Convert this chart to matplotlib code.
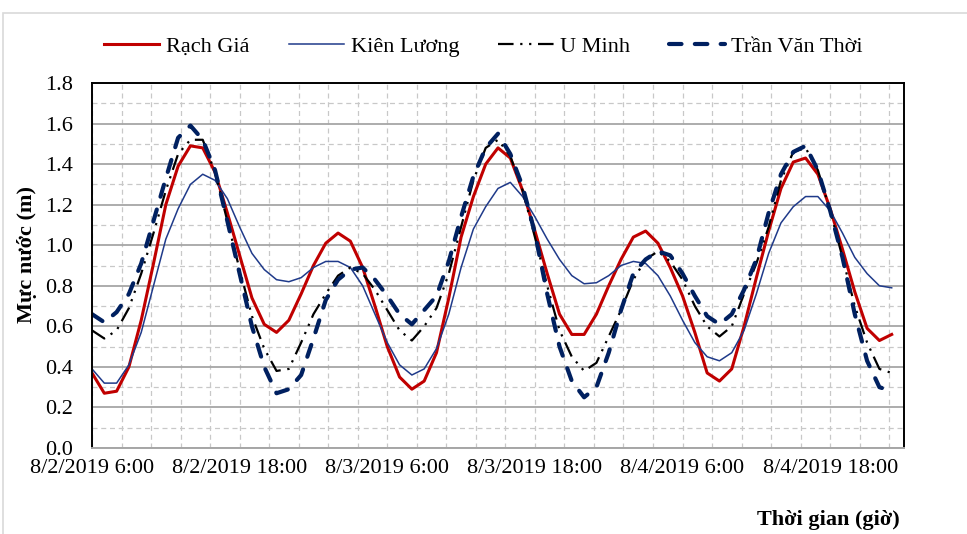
import numpy as np
import pandas as pd
import matplotlib
matplotlib.use("Agg")
import matplotlib.pyplot as plt
import matplotlib.dates as mdates
from matplotlib.ticker import FixedLocator
from matplotlib.patches import Rectangle

plt.rcParams['font.family'] = ['Liberation Serif', 'DejaVu Serif']

# hourly water levels (m), 8/2/2019 06:00 -> 8/4/2019 23:00
times = pd.date_range('2019-08-02 06:00', periods=66, freq='h')

rach_gia = [0.37, 0.27, 0.28, 0.40, 0.63, 0.91, 1.20, 1.39, 1.49, 1.48,
            1.36, 1.16, 0.95, 0.74, 0.61, 0.57, 0.63, 0.76, 0.90, 1.01,
            1.06, 1.02, 0.89, 0.70, 0.50, 0.35, 0.29, 0.33, 0.47, 0.74,
            1.04, 1.24, 1.40, 1.48, 1.43, 1.27, 1.07, 0.86, 0.66, 0.56,
            0.56, 0.66, 0.80, 0.93, 1.04, 1.07, 1.01, 0.89, 0.75, 0.57,
            0.37, 0.33, 0.39, 0.60, 0.84, 1.07, 1.28, 1.41, 1.43, 1.35,
            1.18, 0.98, 0.77, 0.59, 0.53, 0.56]
kien_luong = [0.39, 0.32, 0.32, 0.41, 0.57, 0.80, 1.03, 1.18, 1.30, 1.35,
              1.32, 1.23, 1.09, 0.96, 0.88, 0.83, 0.82, 0.84, 0.89, 0.92,
              0.92, 0.89, 0.80, 0.66, 0.52, 0.41, 0.36, 0.39, 0.49, 0.66,
              0.89, 1.08, 1.19, 1.28, 1.31, 1.24, 1.14, 1.03, 0.93, 0.85,
              0.81, 0.815, 0.85, 0.90, 0.92, 0.91, 0.85, 0.75, 0.63, 0.52,
              0.45, 0.43, 0.47, 0.58, 0.76, 0.96, 1.11, 1.19, 1.24, 1.24,
              1.17, 1.06, 0.94, 0.86, 0.80, 0.79]
u_minh = [0.58, 0.54, 0.58, 0.69, 0.86, 1.06, 1.27, 1.45, 1.52, 1.52,
          1.36, 1.12, 0.88, 0.65, 0.49, 0.38, 0.39, 0.52, 0.66, 0.76,
          0.85, 0.89, 0.86, 0.78, 0.68, 0.58, 0.53, 0.60, 0.69, 0.86,
          1.09, 1.32, 1.48, 1.52, 1.44, 1.27, 1.04, 0.80, 0.58, 0.45,
          0.38, 0.42, 0.55, 0.68, 0.83, 0.93, 0.97, 0.92, 0.83, 0.70,
          0.60, 0.55, 0.60, 0.76, 0.91, 1.09, 1.32, 1.46, 1.48, 1.37,
          1.17, 0.94, 0.70, 0.52, 0.39, 0.37]
tran_van_thoi = [0.66, 0.62, 0.67, 0.76, 0.91, 1.12, 1.33, 1.53, 1.59, 1.52,
                 1.37, 1.12, 0.86, 0.60, 0.40, 0.27, 0.29, 0.36, 0.54, 0.73,
                 0.83, 0.88, 0.89, 0.83, 0.75, 0.66, 0.61, 0.68, 0.75, 0.92,
                 1.14, 1.34, 1.48, 1.55, 1.45, 1.29, 1.06, 0.76, 0.50, 0.33,
                 0.25, 0.30, 0.47, 0.68, 0.86, 0.93, 0.97, 0.95, 0.86, 0.75,
                 0.65, 0.61, 0.66, 0.78, 0.93, 1.16, 1.35, 1.46, 1.49, 1.37,
                 1.17, 0.94, 0.66, 0.43, 0.30, 0.28]

tick_labels = ['8/2/2019 6:00', '8/2/2019 18:00', '8/3/2019 6:00',
               '8/3/2019 18:00', '8/4/2019 6:00', '8/4/2019 18:00']

x0 = mdates.date2num(pd.Timestamp('2019-08-02 06:00'))
x1 = mdates.date2num(pd.Timestamp('2019-08-05 00:00'))

fig = plt.figure(figsize=(9.67, 5.34), dpi=100)
fig.patches.append(Rectangle((3 / 967, -0.05), 1.1, 1 - 13 / 534 + 0.05,
                             transform=fig.transFigure, fill=False,
                             edgecolor='#D9D9D9', lw=1.2))
ax = fig.add_axes([92 / 967, 1 - 448 / 534, 812 / 967, 365 / 534])

ax.plot(times, rach_gia, color='#C00000', lw=2.2, label='Rạch Giá')
ax.plot(times, kien_luong, color='#1F3A8A', lw=1.1, label='Kiên Lương')
ax.plot(times, u_minh, color='black', lw=1.6,
        dashes=(7, 3, 1, 3, 1, 3), label='U Minh')
ax.plot(times, tran_van_thoi, color='#002060', lw=3.0, dashes=(3.0, 3.2),
        dash_capstyle='round', label='Trần Văn Thời')

ax.set_xlim(x0, x1)
ax.set_ylim(0, 1.8)
ax.xaxis.set_major_locator(FixedLocator([x0 + 0.5 * k for k in range(6)]))
ax.xaxis.set_minor_locator(FixedLocator(np.arange(x0, x1, 0.1)))
ax.set_xticklabels(tick_labels)
ax.set_yticks(np.arange(0, 1.81, 0.2))
ax.set_yticks(np.arange(0, 1.81, 0.1), minor=True)
ax.yaxis.set_major_formatter(plt.FuncFormatter(lambda v, p: f'{v:.1f}'))

ax.grid(which='major', axis='y', color='#A6A6A6', lw=1.3, ls='-')
ax.grid(which='minor', axis='y', color='#C8C8C8', lw=0.9, ls=(0, (4, 3)))
ax.grid(which='both', axis='x', color='#C8C8C8', lw=0.9, ls=(0, (4, 3)))
ax.set_axisbelow(True)

ax.tick_params(which='both', length=0)
ax.tick_params(axis='x', labelsize=16, pad=8)
ax.tick_params(axis='y', labelsize=16, pad=14)

for side in ['left', 'top', 'right']:
    ax.spines[side].set_color('black')
    ax.spines[side].set_linewidth(1.4)
ax.spines['bottom'].set_color('#A6A6A6')
ax.spines['bottom'].set_linewidth(1.4)

fig.text(27 / 967, 1 - 255 / 534, 'Mực nước (m)', rotation=90, fontsize=16,
         fontweight='bold', ha='center', va='center')
fig.text(900 / 967, 1 - 520 / 534, 'Thời gian (giờ)', fontsize=16,
         fontweight='bold', ha='right', va='center')

ax.legend(loc='center', bbox_to_anchor=(0.5, 1 - 47 / 534),
          bbox_transform=fig.transFigure, ncol=4, frameon=False, fontsize=16,
          handlelength=2.5, handletextpad=0.3, columnspacing=1.75)

fig.savefig('out.png', dpi=100)
